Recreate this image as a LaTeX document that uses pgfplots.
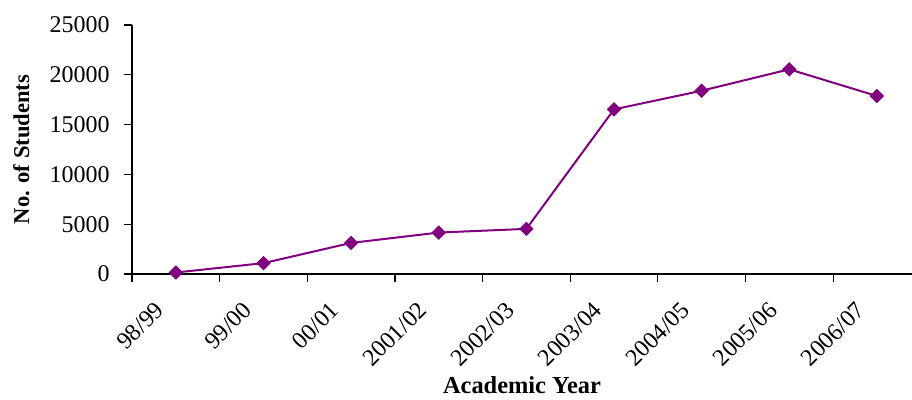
\documentclass[border=0pt]{standalone}
\usepackage{fontspec}
\setmainfont{Liberation Serif}
\usepackage{pgfplots}
\pgfplotsset{compat=1.18}
\definecolor{excelpurple}{HTML}{800080}
\begin{document}
\begin{tikzpicture}
\begin{axis}[
  scale only axis, width=390pt, height=124.5pt,
  xmin=-0.5, xmax=8.4, ymin=0, ymax=25000,
  axis lines=left,
  axis line style={-, black, line width=0.6pt},
  clip=false,
  /pgf/number format/assume math mode=true,
  font=\fontsize{12}{14}\selectfont,
  tick align=outside,
  major tick length=4pt,
  tick style={black, line width=0.6pt},
  xtick={-0.5,0.5,...,7.5},
  xticklabels={},
  extra x ticks={0,1,2,3,4,5,6,7,8},
  extra x tick labels={98/99,99/00,00/01,2001/02,2002/03,2003/04,2004/05,2005/06,2006/07},
  extra x tick style={major tick length=0pt,
    xticklabel style={xshift=-11pt, yshift=-13pt, rotate=45, anchor=north east, inner sep=0pt}},
  ytick={0,5000,10000,15000,20000,25000},
  scaled y ticks=false,
  yticklabel style={/pgf/number format/1000 sep={}, inner sep=0pt, xshift=-7pt, anchor=east},
  xlabel={\bfseries Academic Year},
  xlabel style={at={(axis description cs:0.5,-0.41)}, anchor=north, inner sep=0pt, font=\fontsize{12.2}{14}\selectfont},
  ylabel={\bfseries No. of Students},
  ylabel style={at={(axis description cs:-0.132,0.5)}, anchor=base, inner sep=0pt, rotate=0, font=\fontsize{11.3}{13}\selectfont},
]
\addplot[excelpurple, line width=1pt, mark=square*, mark size=2.3pt, mark options={fill=excelpurple, draw=excelpurple, rotate=45, line width=0.5pt}]
  coordinates {(0,150) (1,1090) (2,3120) (3,4160) (4,4530) (5,16530) (6,18400) (7,20550) (8,17870)};
\coordinate (sw) at (rel axis cs:0,0);
\end{axis}
\pgfresetboundingbox
\useasboundingbox ([shift={(-66pt,-63pt)}]sw) rectangle ([shift={(390pt,137pt)}]sw);
\end{tikzpicture}
\end{document}
